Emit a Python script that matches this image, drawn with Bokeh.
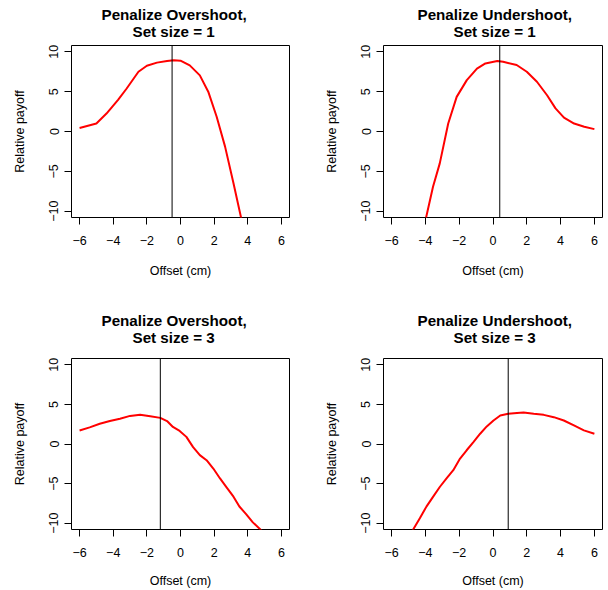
import math
from bokeh.plotting import figure
from bokeh.models import FixedTicker, CustomJSTickFormatter, Span, Range1d, Title
from bokeh.layouts import column, row
from bokeh.embed import file_html
from bokeh.resources import INLINE

# ---- data ----
x_ticks = [-6, -4, -2, 0, 2, 4, 6]
y_ticks = [-10, -5, 0, 5, 10]

titles_top = ["Penalize Overshoot,", "Penalize Undershoot,",
              "Penalize Overshoot,", "Penalize Undershoot,"]
titles_bottom = ["Set size = 1", "Set size = 1", "Set size = 3", "Set size = 3"]

os1_x = [-6.0, -5.0, -4.4, -3.7, -3.2, -2.5, -2.0, -1.4, -0.8, -0.4, 0.0, 0.55, 1.15, 1.65, 2.15, 2.65, 3.15, 3.62]
os1_y = [0.45, 1.0, 2.25, 4.0, 5.4, 7.5, 8.25, 8.65, 8.85, 8.95, 8.9, 8.3, 7.05, 5.0, 1.85, -1.9, -6.5, -11.0]

us1_x = [-3.98, -3.55, -3.15, -2.65, -2.15, -1.55, -0.95, -0.45, 0.25, 0.6, 1.4, 2.0, 2.6, 3.2, 3.7, 4.2, 4.8, 5.4, 6.0]
us1_y = [-11.0, -6.95, -4.0, 1.0, 4.35, 6.45, 7.9, 8.55, 8.85, 8.75, 8.35, 7.5, 6.25, 4.55, 2.9, 1.75, 1.0, 0.6, 0.3]

os3_x = [-6.0, -5.4, -4.8, -4.2, -3.6, -3.0, -2.4, -1.8, -1.2, -0.8, -0.45, -0.05, 0.35, 0.75, 1.15, 1.55, 1.95, 2.35, 2.75, 3.15, 3.5, 3.9, 4.3, 4.85]
os3_y = [1.7, 2.1, 2.55, 2.9, 3.2, 3.55, 3.7, 3.5, 3.3, 2.9, 2.15, 1.65, 0.9, -0.4, -1.4, -2.05, -3.1, -4.35, -5.5, -6.65, -7.9, -8.85, -9.9, -11.0]

us3_x = [-4.78, -4.33, -3.94, -3.54, -3.14, -2.75, -2.35, -1.95, -1.56, -1.16, -0.76, -0.37, 0.03, 0.43, 0.9, 1.42, 1.81, 2.41, 3.0, 3.6, 4.19, 4.79, 5.38, 6.0]
us3_y = [-11.0, -9.37, -7.91, -6.65, -5.4, -4.35, -3.31, -1.84, -0.79, 0.25, 1.3, 2.22, 2.97, 3.6, 3.81, 3.93, 3.97, 3.81, 3.68, 3.39, 2.97, 2.34, 1.72, 1.3]

vlines = [-0.5, 0.4, -1.2, 0.9]

FONT = "Liberation Sans"
fmt_code = "return tick < 0 ? '\\u2212' + Math.abs(tick) : String(tick);"


def style_title(t, offset, standoff):
    t.align = "left"
    t.text_font = FONT
    t.text_font_size = "15.2px"
    t.text_font_style = "bold"
    t.text_color = "black"
    t.standoff = standoff
    t.offset = offset


def make(xs, ys, vx, t1, t2, width, height, bl, br, bt, bb,
         off1, off2, gap, xl_standoff):
    p = figure(width=width, height=height, output_backend="svg", toolbar_location=None,
               x_range=Range1d(-6.48, 6.48), y_range=Range1d(-10.8, 10.8),
               min_border_left=bl, min_border_right=br,
               min_border_top=bt, min_border_bottom=bb)
    p.background_fill_color = "white"
    p.border_fill_color = "white"
    p.outline_line_color = "black"
    p.outline_line_width = 1
    p.xgrid.visible = False
    p.ygrid.visible = False

    # thin spacer next to the frame, then the second title line, main title outermost
    spacer = Title(text=" ", text_font_size="1px", standoff=gap)
    p.add_layout(spacer, "above")
    sub = Title(text=t2)
    style_title(sub, off2, 0)
    p.add_layout(sub, "above")
    p.title.text = t1
    style_title(p.title, off1, -4)

    for ax in (p.xaxis[0], p.yaxis[0]):
        ax.axis_line_color = None
        ax.major_tick_line_color = "black"
        ax.major_tick_out = 7
        ax.major_tick_in = 0
        ax.minor_tick_line_color = None
        ax.major_label_text_font = FONT
        ax.major_label_text_font_size = "12.5px"
        ax.major_label_text_color = "black"
        ax.axis_label_text_font = FONT
        ax.axis_label_text_font_size = "12.5px"
        ax.axis_label_text_font_style = "normal"
        ax.axis_label_text_color = "black"
        ax.formatter = CustomJSTickFormatter(code=fmt_code)

    p.xaxis[0].ticker = FixedTicker(ticks=x_ticks)
    p.yaxis[0].ticker = FixedTicker(ticks=y_ticks)
    p.xaxis[0].axis_label = "Offset (cm)"
    p.yaxis[0].axis_label = "Relative payoff"
    p.xaxis[0].major_label_standoff = 11
    p.xaxis[0].axis_label_standoff = xl_standoff
    p.yaxis[0].major_label_orientation = "vertical"
    p.yaxis[0].major_label_standoff = 6
    p.yaxis[0].axis_label_standoff = 20

    p.line(xs, ys, line_color="#ff0000", line_width=2)
    p.add_layout(Span(location=vx, dimension="height", line_color="black", line_width=1))
    return p


p1 = make(os1_x, os1_y, vlines[0], titles_top[0], titles_bottom[0], 304, 295, 71, 15, 45, 78, 30, 61, 2.5, 16)
p2 = make(us1_x, us1_y, vlines[1], titles_top[1], titles_bottom[1], 304, 295, 79, 6, 45, 78, 34, 70, 2.5, 16)
p3 = make(os3_x, os3_y, vlines[2], titles_top[2], titles_bottom[2], 304, 295, 71, 15, 63, 60, 30, 61, 10, 14)
p4 = make(us3_x, us3_y, vlines[3], titles_top[3], titles_bottom[3], 304, 295, 79, 6, 63, 60, 34, 70, 10, 14)

layout = column(row(p1, p2), row(p3, p4))
open("out.html", "w").write(file_html(layout, INLINE))
